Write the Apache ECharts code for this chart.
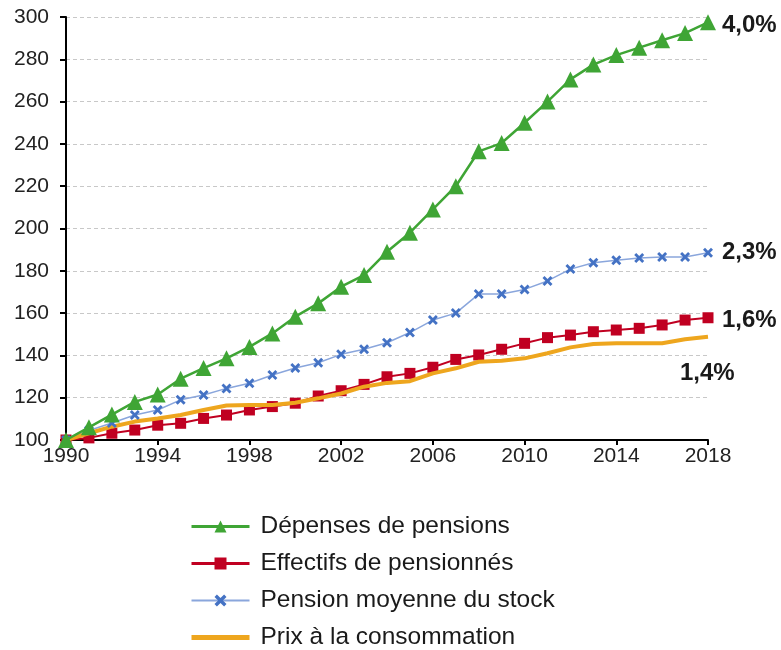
<!DOCTYPE html>
<html>
<head>
<meta charset="utf-8">
<script src="https://cdn.jsdelivr.net/npm/echarts@6/dist/echarts.min.js"></script>
<style>
  html, body { margin: 0; padding: 0; background: #fff; }
  #main { width: 781px; height: 650px; }
</style>
</head>
<body>
<div id="main"></div>
<script>
const years = [];
for (let y = 1990; y <= 2018; y++) years.push(String(y));

// indices base 100 en 1990
const depenses = [100, 106, 112, 118, 121.5, 129, 134, 138.6, 144, 150.4, 158.3, 164.6, 172.5, 178,
  189, 198, 209, 220, 236.5, 240.4, 250, 260, 270.5, 277.5, 282, 285.5, 289, 292.4, 297.5];
const effectifs = [100, 101, 103.2, 104.7, 107, 107.9, 110.2, 111.8, 114.2, 115.8, 117.4, 120.8, 123.3, 126.3,
  129.9, 131.5, 134.4, 138.1, 140.2, 142.9, 145.7, 148.4, 149.6, 151.2, 152, 152.8, 154.4, 156.7, 157.8];
const pensionMoy = [100, 104.5, 108, 111.8, 114.2, 119, 121.3, 124.4, 126.8, 130.7, 134, 136.5, 140.5, 142.9,
  146, 150.8, 156.7, 160, 169, 169, 171.2, 175.2, 180.8, 183.8, 185, 186, 186.5, 186.5, 188.5];
const prix = [100, 103.2, 106.3, 108.7, 110.2, 111.8, 114.2, 116.3, 116.5, 116.6, 117.6, 119.7, 122, 125.2,
  127, 127.8, 131.5, 133.9, 137, 137.5, 138.6, 141, 143.8, 145.4, 145.7, 145.7, 145.7, 147.6, 148.8];

const names = ["Dépenses de pensions", "Effectifs de pensionnés", "Pension moyenne du stock", "Prix à la consommation"];
const endLabels = ["4,0%", "1,6%", "2,3%", "1,4%"];

const font = "Liberation Sans, Arial, sans-serif";
const crossPath = "path://M0,2L2,0L5,3L8,0L10,2L7,5L10,8L8,10L5,7L2,10L0,8L3,5Z";

// étiquette de taux en bout de courbe
function endLabel(text, offset) {
  return {
    show: true, formatter: text, offset: offset, distance: 5,
    fontFamily: font, fontSize: 24, fontWeight: "bold", color: "#1a1a1a"
  };
}

const chart = echarts.init(document.getElementById("main"));
chart.setOption({
  animation: false,
  backgroundColor: "#fff",
  grid: { left: 66, right: 73, top: 17, bottom: 210 },
  legend: {
    orient: "vertical",
    left: 189,
    bottom: 0,
    padding: 0,
    itemWidth: 58,
    itemHeight: 15,
    itemGap: 12,
    textStyle: { fontFamily: font, fontSize: 24.5, color: "#1a1a1a", padding: [0, 0, 0, 6] },
    data: [
      { name: names[0], lineStyle: { width: 3 } },
      { name: names[1], lineStyle: { width: 3 } },
      names[2],
      { name: names[3], itemStyle: { opacity: 0 }, lineStyle: { width: 5 } }
    ]
  },
  xAxis: {
    type: "category",
    data: years,
    boundaryGap: false,
    axisLine: { lineStyle: { color: "#000", width: 2 } },
    axisTick: { interval: 3, length: 5, lineStyle: { color: "#000", width: 2 } },
    axisLabel: { interval: 3, fontFamily: font, fontSize: 21, color: "#222", margin: 6 }
  },
  yAxis: {
    type: "value",
    min: 100, max: 300, interval: 20,
    axisLine: { show: true, lineStyle: { color: "#000", width: 2 } },
    axisTick: { show: true, length: 6, lineStyle: { color: "#000", width: 2 } },
    axisLabel: { fontFamily: font, fontSize: 21, color: "#222", margin: 17 },
    splitLine: { lineStyle: { color: "#c8c8c8", type: [4, 3], width: 1 } }
  },
  series: [
    {
      name: names[0], type: "line", z: 5,
      data: depenses,
      symbol: "triangle", symbolSize: 16, showAllSymbol: true,
      lineStyle: { color: "#3fa535", width: 2.5 },
      itemStyle: { color: "#3fa535" },
      endLabel: endLabel(endLabels[0], [9, 3])
    },
    {
      name: names[1], type: "line", z: 3,
      data: effectifs,
      symbol: "rect", symbolSize: 11, showAllSymbol: true,
      lineStyle: { color: "#c00021", width: 2 },
      itemStyle: { color: "#c00021" },
      endLabel: endLabel(endLabels[1], [9, 3])
    },
    {
      name: names[2], type: "line", z: 4,
      data: pensionMoy,
      symbol: crossPath, symbolSize: 10, showAllSymbol: true,
      lineStyle: { color: "#8aa6dc", width: 1.5 },
      itemStyle: { color: "#4472c4" },
      endLabel: endLabel(endLabels[2], [9, 0])
    },
    {
      name: names[3], type: "line", z: 4,
      data: prix,
      symbol: "none",
      lineStyle: { color: "#eea61e", width: 4 },
      itemStyle: { color: "#eea61e" },
      endLabel: endLabel(endLabels[3], [-33, 37])
    }
  ]
});
</script>
</body>
</html>
